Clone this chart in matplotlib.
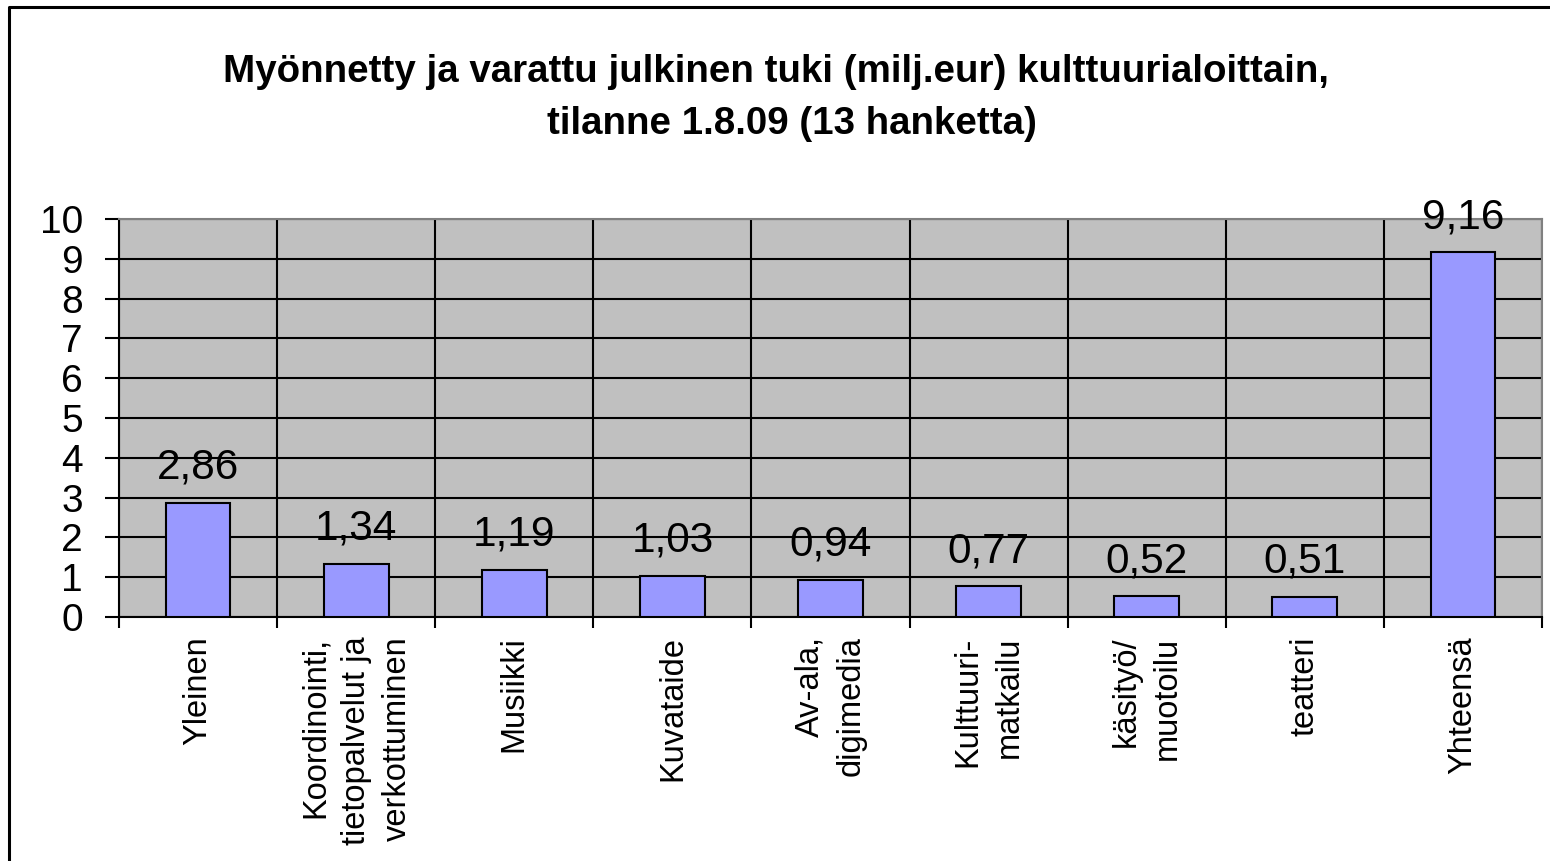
import matplotlib
matplotlib.use("Agg")
import matplotlib.pyplot as plt
from matplotlib.lines import Line2D
import numpy as np

plt.rcParams['font.family'] = ['Liberation Sans', 'DejaVu Sans']

categories = ["Yleinen", "Koordinointi,\ntietopalvelut ja\nverkottuminen", "Musiikki",
              "Kuvataide", "Av-ala,\ndigimedia", "Kulttuuri-\nmatkailu",
              "käsityö/\nmuotoilu", "teatteri", "Yhteensä"]
values = [2.86, 1.34, 1.19, 1.03, 0.94, 0.77, 0.52, 0.51, 9.16]
value_labels = ["2,86", "1,34", "1,19", "1,03", "0,94", "0,77", "0,52", "0,51", "9,16"]
yticks = [0, 1, 2, 3, 4, 5, 6, 7, 8, 9, 10]
title_lines = ["Myönnetty ja varattu julkinen tuki (milj.eur) kulttuurialoittain,",
               "tilanne 1.8.09 (13 hanketta)"]

W, H = 1550, 861
fig = plt.figure(figsize=(W / 100, H / 100), dpi=100)
fig.patch.set_facecolor('white')

left, right, top, bottom = 119, 1542, 219, 617
ax = fig.add_axes([left / W, 1 - bottom / H, (right - left) / W, (bottom - top) / H])
ax.set_facecolor('#C0C0C0')

x = np.arange(len(categories))
ax.bar(x, values, width=0.41, color='#9999FF', edgecolor='black', linewidth=1.5, zorder=3)

ax.set_xlim(-0.5, len(categories) - 0.5)
ax.set_ylim(0, 10)

# y axis
ax.set_yticks(yticks)
ax.set_yticklabels([str(t) for t in yticks], fontsize=28)
ax.tick_params(axis='y', direction='out', length=10, width=1.5, pad=16, colors='black')

# x axis: labels at centers, ticks at boundaries
ax.set_xticks(x)
ax.set_xticklabels(categories, rotation=90, fontsize=23.5, ha='center', va='top',
                   multialignment='right')
for t in ax.get_xticklabels():
    t.set_linespacing(1.42)
ax.tick_params(axis='x', which='major', length=0, pad=14)
ax.set_xticks(np.arange(len(categories) + 1) - 0.5, minor=True)
ax.tick_params(axis='x', which='minor', direction='out', length=8, width=1.5, color='black')

# grid
ax.yaxis.grid(True, color='black', linewidth=1.5, zorder=1)
ax.xaxis.grid(True, which='minor', color='black', linewidth=1.5, zorder=1)
ax.xaxis.grid(False, which='major')
ax.set_axisbelow(True)

for s in ['left', 'bottom']:
    ax.spines[s].set_color('black')
    ax.spines[s].set_linewidth(1.5)
for s in ['top', 'right']:
    ax.spines[s].set_color('#808080')
    ax.spines[s].set_linewidth(1.5)

# value labels
for xi, v, lab in zip(x, values, value_labels):
    ax.annotate(lab, (xi, v), xytext=(0, 11), textcoords='offset points',
                ha='center', va='bottom', fontsize=30.5, zorder=4, annotation_clip=False)

# title
fig.text(776 / W, 1 - 72 / H, title_lines[0], ha='center', va='center',
         fontsize=27.7, fontweight='bold')
fig.text(792 / W, 1 - 124 / H, title_lines[1], ha='center', va='center',
         fontsize=27.7, fontweight='bold')

# outer border (left and top visible)
fig.add_artist(Line2D([9 / W, 9 / W, 1.0], [0.0, 1 - 7 / H, 1 - 7 / H],
                      transform=fig.transFigure, color='black', linewidth=2.2))

fig.savefig("out.png", dpi=100)
